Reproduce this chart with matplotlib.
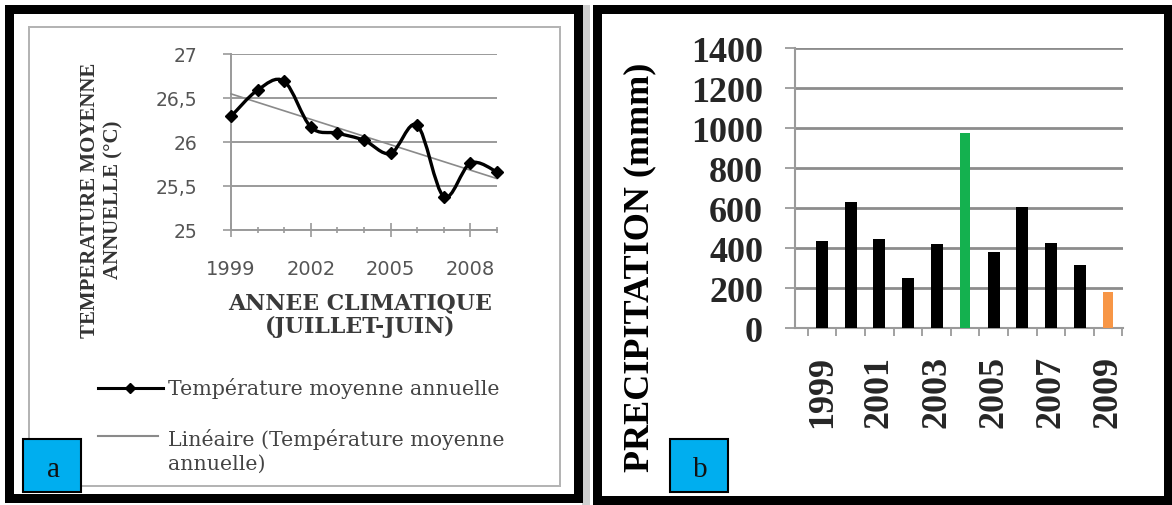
import numpy as np
import matplotlib
matplotlib.use("Agg")
import matplotlib.pyplot as plt
from matplotlib.patches import Rectangle, PathPatch
from matplotlib.path import Path
from matplotlib.lines import Line2D
from matplotlib.ticker import FuncFormatter, FixedLocator

# temperature moyenne annuelle (degC), annees climatiques juillet-juin
years_t = [1999, 2000, 2001, 2002, 2003, 2004, 2005, 2006, 2007, 2008, 2009]
temp = [26.29, 26.59, 26.69, 26.17, 26.10, 26.02, 25.87, 26.19, 25.38, 25.76, 25.66]
temp_ticks = [25, 25.5, 26, 26.5, 27]
year_labels_t = [1999, 2002, 2005, 2008]

# precipitations annuelles (mm)
years_p = [1999, 2000, 2001, 2002, 2003, 2004, 2005, 2006, 2007, 2008, 2009]
precip = [438, 633, 447, 252, 422, 975, 383, 608, 427, 318, 183]
precip_ticks = [0, 200, 400, 600, 800, 1000, 1200, 1400]
year_labels_p = [1999, 2001, 2003, 2005, 2007, 2009]

W, H = 1172, 506
PX = 0.72  # points per pixel at dpi 100


def rect(x0, y0, x1, y1):
    """pixel box (top-left origin) -> figure fraction [l, b, w, h]"""
    return [x0 / W, 1 - y1 / H, (x1 - x0) / W, (y1 - y0) / H]


def fx(x):
    return x / W


def fy(y):
    return 1 - y / H


def smooth_path(xs, ys):
    # courbe lissee (bezier cubique passant par chaque point)
    pts = np.column_stack([xs, ys]).astype(float)
    n = len(pts)
    verts = [pts[0]]
    codes = [Path.MOVETO]
    for i in range(n - 1):
        p0 = pts[max(i - 1, 0)]
        p1, p2 = pts[i], pts[i + 1]
        p3 = pts[min(i + 2, n - 1)]
        verts += [p1 + (p2 - p0) / 6, p2 - (p3 - p1) / 6, p2]
        codes += [Path.CURVE4] * 3
    return Path(verts, codes)


fig = plt.figure(figsize=(W / 100, H / 100), dpi=100)
fig.patch.set_facecolor("white")

# cadres des deux panneaux
def frame(x0, y0, x1, y1, lw_px, color):
    fig.add_artist(Rectangle((fx(x0), fy(y1)), (x1 - x0) / W, (y1 - y0) / H,
                             transform=fig.transFigure, fill=False,
                             edgecolor=color, linewidth=lw_px * PX))

fig.add_artist(Rectangle((fx(582), 0.0), 8 / W, fy(6), transform=fig.transFigure,
                         facecolor="#cfcfcf", edgecolor="none"))
frame(9.5, 10, 577.5, 498.5, 9, "black")
frame(29, 28, 560, 487, 2, "#b4b4b4")
frame(597, 10, 1167.5, 500.5, 9, "black")

# ---------------- (a) temperature ----------------
grid_c = "#9a9a9a"
ax1 = fig.add_axes(rect(231, 55, 497, 231))
ax1.set_xlim(1999, 2009)
ax1.set_ylim(25, 27)

coef = np.polyfit(years_t, temp, 1)
trend_x = [years_t[0], years_t[-1]]
ax1.plot(trend_x, np.polyval(coef, trend_x), color="#8a8a8a", lw=1.2, zorder=3,
         clip_on=False)
ax1.add_patch(PathPatch(smooth_path(years_t, temp), fill=False, edgecolor="black",
                        lw=2.4, zorder=4, clip_on=False))
ax1.plot(years_t, temp, ls="none", marker="D", ms=6, color="black", zorder=5,
         clip_on=False)

ax1.set_yticks(temp_ticks)
ax1.yaxis.set_major_formatter(FuncFormatter(lambda v, p: f"{v:g}".replace(".", ",")))
ax1.set_xticks(year_labels_t)
ax1.xaxis.set_minor_locator(FixedLocator([y for y in years_t if y not in year_labels_t]))
ax1.grid(axis="y", color=grid_c, lw=1.4)
ax1.set_axisbelow(True)
for s in ["top", "right"]:
    ax1.spines[s].set_visible(False)
for s in ["left", "bottom"]:
    ax1.spines[s].set_color(grid_c)
    ax1.spines[s].set_linewidth(1.4)
ax1.tick_params(axis="y", length=6, color=grid_c, width=1.2, pad=18,
                labelsize=13.5, labelcolor="#555555")
ax1.tick_params(axis="x", which="major", direction="inout", length=10, color=grid_c,
                width=1.2, pad=16, labelsize=14, labelcolor="#555555")
ax1.tick_params(axis="x", which="minor", direction="inout", length=5, color=grid_c,
                width=1.2)
ax1.set_facecolor("none")

fig.text(fx(102), fy(200), "TEMPERATURE MOYENNE\nANNUELLE (°C)", rotation=90,
         ha="center", va="center", ma="center", family="Liberation Serif",
         weight="bold", fontsize=15, color="#333333", linespacing=1.25)
fig.text(fx(360), fy(315), "ANNEE CLIMATIQUE\n(JUILLET-JUIN)", ha="center",
         va="center", ma="center", family="DejaVu Serif", weight="bold",
         fontsize=15.8, color="#3a3a3a", linespacing=1.1)

# legende
fig.add_artist(Line2D([fx(98), fx(163)], [fy(389), fy(389)], color="black", lw=2.2,
                      transform=fig.transFigure))
fig.add_artist(Line2D([fx(130)], [fy(389)], marker="D", ms=5.5, color="black",
                      transform=fig.transFigure))
fig.text(fx(168), fy(389), "Température moyenne annuelle", ha="left", va="center",
         family="DejaVu Serif", fontsize=14.8, color="#444444")
fig.add_artist(Line2D([fx(98), fx(158)], [fy(437), fy(437)], color="#8a8a8a", lw=1.5,
                      transform=fig.transFigure))
fig.text(fx(168), fy(451), "Linéaire (Température moyenne\nannuelle)", ha="left",
         va="center", family="DejaVu Serif", fontsize=14.8, color="#444444",
         linespacing=1.32)

# ---------------- (b) precipitations ----------------
bar_colors = ["black"] * len(years_p)
bar_colors[years_p.index(2004)] = "#14b14f"
bar_colors[years_p.index(2009)] = "#f79646"
bar_widths = [0.33 if c != "black" else 0.42 for c in bar_colors]

ax2 = fig.add_axes(rect(795, 49.3, 1123, 329.3))
ax2.bar(years_p, precip, width=bar_widths, color=bar_colors, zorder=3)
ax2.set_xlim(1998.05, 2009.52)
ax2.set_ylim(0, 1400)
ax2.set_yticks(precip_ticks)
ax2.set_xticks(year_labels_p)
ax2.xaxis.set_minor_locator(FixedLocator([y + 0.5 for y in range(1998, 2010)]))
ax2.grid(axis="y", color="#8c8c8c", lw=2.0, zorder=0)
ax2.set_axisbelow(True)
for s in ["top", "right"]:
    ax2.spines[s].set_visible(False)
for s in ["left", "bottom"]:
    ax2.spines[s].set_color("#9a9a9a")
    ax2.spines[s].set_linewidth(1.5)
ax2.tick_params(axis="y", length=7, color="#9a9a9a", width=1.3, pad=16,
                labelsize=26)
ax2.tick_params(axis="x", which="major", length=0, pad=19, labelsize=26,
                labelrotation=90)
ax2.tick_params(axis="x", which="minor", length=6, color="#9a9a9a", width=1.3)
for lab in ax2.get_xticklabels() + ax2.get_yticklabels():
    lab.set_family("Liberation Serif")
    lab.set_weight("bold")
    lab.set_color("#262626")
ax2.set_facecolor("none")

fig.text(fx(640), fy(267), "PRECIPITATION (mmm)", rotation=90, ha="center",
         va="center", family="Liberation Serif", weight="bold", fontsize=26,
         color="black")

# etiquettes a / b
for x0, letter in [(23, "a"), (670, "b")]:
    fig.add_artist(Rectangle((fx(x0), fy(493)), 58 / W, 53 / H,
                             transform=fig.transFigure, facecolor="#00aeef",
                             edgecolor="black", lw=1.5))
    fig.text(fx(x0 + 30), fy(470), letter, ha="center", va="center",
             family="Liberation Serif", fontsize=21, color="#111111")

fig.savefig("out.png", dpi=100)
